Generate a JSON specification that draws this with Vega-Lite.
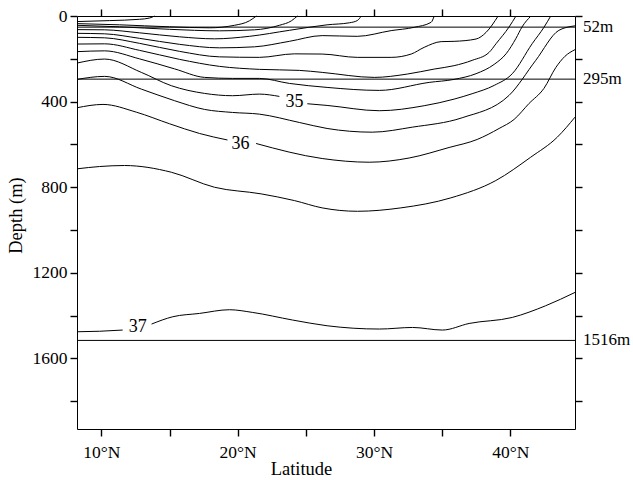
{
  "$schema": "https://vega.github.io/schema/vega-lite/v6.json",
  "width": 498,
  "height": 413,
  "autosize": {"type": "none"},
  "padding": {"left": 77, "top": 16, "right": 58, "bottom": 51},
  "background": "white",
  "config": {
    "view": {"stroke": null},
    "font": "Liberation Serif, Times New Roman, Times, DejaVu Serif, serif",
    "axis": {
      "grid": false,
      "domainColor": "black",
      "tickColor": "black",
      "labelColor": "black",
      "titleColor": "black",
      "labelFont": "Liberation Serif, Times New Roman, Times, DejaVu Serif, serif",
      "titleFont": "Liberation Serif, Times New Roman, Times, DejaVu Serif, serif",
      "labelFontSize": 17.5,
      "titleFontSize": 18.5,
      "titleFontWeight": "normal",
      "tickSize": 7,
      "tickWidth": 1.4,
      "domainWidth": 1
    }
  },
  "datasets": {
    "contours": [
      {"c":"31","lat":8.21,"depth":26},{"c":"31","lat":10.61,"depth":21.5},{"c":"31","lat":12.8,"depth":15.4},{"c":"31","lat":13.54,"depth":9.4},{"c":"31","lat":13.9,"depth":0},
      {"c":"31.5","lat":8.21,"depth":35.6},{"c":"31.5","lat":11.34,"depth":41.2},{"c":"31.5","lat":15.0,"depth":50.5},{"c":"31.5","lat":17.93,"depth":55.2},{"c":"31.5","lat":19.76,"depth":43.5},{"c":"31.5","lat":20.86,"depth":22.5},{"c":"31.5","lat":21.37,"depth":0},
      {"c":"32","lat":8.21,"depth":43.5},{"c":"32","lat":11.34,"depth":50.5},{"c":"32","lat":15.0,"depth":62.2},{"c":"32","lat":18.66,"depth":69.3},{"c":"32","lat":21.23,"depth":64.6},{"c":"32","lat":23.06,"depth":43.5},{"c":"32","lat":23.94,"depth":22.5},{"c":"32","lat":24.38,"depth":0},
      {"c":"32.5","lat":8.21,"depth":63.6},{"c":"32.5","lat":10.24,"depth":64.6},{"c":"32.5","lat":12.8,"depth":78.6},{"c":"32.5","lat":15.73,"depth":97.3},{"c":"32.5","lat":18.3,"depth":106.7},{"c":"32.5","lat":20.86,"depth":95},{"c":"32.5","lat":23.79,"depth":66.9},{"c":"32.5","lat":26.56,"depth":41.2},{"c":"32.5","lat":28.19,"depth":31.8},{"c":"32.5","lat":28.77,"depth":21.5},{"c":"32.5","lat":29.07,"depth":0},
      {"c":"33","lat":8.21,"depth":81},{"c":"33","lat":10.24,"depth":83.3},{"c":"33","lat":12.8,"depth":104.4},{"c":"33","lat":15.73,"depth":132.4},{"c":"33","lat":18.66,"depth":148.8},{"c":"33","lat":21.23,"depth":144.1},{"c":"33","lat":23.79,"depth":118.4},{"c":"33","lat":26.2,"depth":91.7},{"c":"33","lat":28.77,"depth":95},{"c":"33","lat":31.26,"depth":68.3},{"c":"33","lat":32.95,"depth":52.9},{"c":"33","lat":34.19,"depth":29.5},{"c":"33","lat":34.42,"depth":0},
      {"c":"33.5","lat":8.21,"depth":99.7},{"c":"33.5","lat":10.24,"depth":102},{"c":"33.5","lat":12.8,"depth":127.8},{"c":"33.5","lat":15.73,"depth":165.2},{"c":"33.5","lat":18.66,"depth":190.9},{"c":"33.5","lat":21.59,"depth":193.3},{"c":"33.5","lat":24.16,"depth":176.9},{"c":"33.5","lat":26.2,"depth":177.8},{"c":"33.5","lat":28.77,"depth":193.3},{"c":"33.5","lat":31.26,"depth":193.3},{"c":"33.5","lat":32.73,"depth":177.8},{"c":"33.5","lat":33.68,"depth":146.5},{"c":"33.5","lat":34.93,"depth":119.8},{"c":"33.5","lat":35.88,"depth":118.4},{"c":"33.5","lat":37.49,"depth":107.6},{"c":"33.5","lat":38.23,"depth":76.3},{"c":"33.5","lat":39.11,"depth":0},
      {"c":"34","lat":8.21,"depth":131},{"c":"34","lat":10.24,"depth":130.1},{"c":"34","lat":12.8,"depth":160.5},{"c":"34","lat":15.73,"depth":202.6},{"c":"34","lat":18.66,"depth":235.4},{"c":"34","lat":21.59,"depth":249.4},{"c":"34","lat":24.52,"depth":254.1},{"c":"34","lat":26.2,"depth":263.5},{"c":"34","lat":30.02,"depth":286.9},{"c":"34","lat":32.44,"depth":271.4},{"c":"34","lat":34.42,"depth":248},{"c":"34","lat":35.88,"depth":232.1},{"c":"34","lat":37.2,"depth":207.3},{"c":"34","lat":38.45,"depth":169.9},{"c":"34","lat":38.96,"depth":129.2},{"c":"34","lat":39.91,"depth":51.5},{"c":"34","lat":40.42,"depth":0},
      {"c":"34.5","lat":8.21,"depth":166.6},{"c":"34.5","lat":10.24,"depth":162.9},{"c":"34.5","lat":12.8,"depth":200.3},{"c":"34.5","lat":15.37,"depth":247.1},{"c":"34.5","lat":17.57,"depth":286.9},{"c":"34.5","lat":19.62,"depth":291.6},{"c":"34.5","lat":21.59,"depth":291.6},{"c":"34.5","lat":23.79,"depth":315},{"c":"34.5","lat":26.56,"depth":333.7},{"c":"34.5","lat":30.39,"depth":347.7},{"c":"34.5","lat":34.05,"depth":310.3},{"c":"34.5","lat":35.88,"depth":296.2},{"c":"34.5","lat":37.49,"depth":269.6},{"c":"34.5","lat":38.82,"depth":226},{"c":"34.5","lat":39.7,"depth":176},{"c":"34.5","lat":40.42,"depth":104.4},{"c":"34.5","lat":40.86,"depth":51.5},{"c":"34.5","lat":41.52,"depth":0},
      {"c":"35a","lat":8.21,"depth":220},{"c":"35a","lat":10.24,"depth":201.2},{"c":"35a","lat":12.93,"depth":263.5},{"c":"35a","lat":15.13,"depth":325.7},{"c":"35a","lat":17.57,"depth":361.8},{"c":"35a","lat":19.62,"depth":372.5},{"c":"35a","lat":21.59,"depth":365},{"c":"35a","lat":23.06,"depth":375.8},
      {"c":"35b","lat":25.11,"depth":410},{"c":"35b","lat":26.56,"depth":417.9},{"c":"35b","lat":30.39,"depth":442.7},{"c":"35b","lat":33.68,"depth":419.3},{"c":"35b","lat":35.88,"depth":388.4},{"c":"35b","lat":37.2,"depth":363.2},{"c":"35b","lat":38.82,"depth":324.3},{"c":"35b","lat":40.15,"depth":269.6},{"c":"35b","lat":41.61,"depth":129.2},{"c":"35b","lat":42.47,"depth":52.9},{"c":"35b","lat":42.97,"depth":0},
      {"c":"35.5","lat":8.21,"depth":296.2},{"c":"35.5","lat":10.24,"depth":282.2},{"c":"35.5","lat":12.93,"depth":341.6},{"c":"35.5","lat":15.37,"depth":395.9},{"c":"35.5","lat":17.57,"depth":436.6},{"c":"35.5","lat":19.62,"depth":450.7},{"c":"35.5","lat":21.59,"depth":458.6},{"c":"35.5","lat":24.52,"depth":497.5},{"c":"35.5","lat":26.56,"depth":525.6},{"c":"35.5","lat":29.87,"depth":542.9},{"c":"35.5","lat":32.81,"depth":519.5},{"c":"35.5","lat":36.47,"depth":475.5},{"c":"35.5","lat":39.91,"depth":371.1},{"c":"35.5","lat":41.87,"depth":207.3},{"c":"35.5","lat":43.57,"depth":66.9},{"c":"35.5","lat":44.75,"depth":46},
      {"c":"36a","lat":8.21,"depth":428.7},{"c":"36a","lat":10.12,"depth":413.2},{"c":"36a","lat":12.56,"depth":449.3},{"c":"36a","lat":15.0,"depth":503.6},{"c":"36a","lat":17.2,"depth":549},{"c":"36a","lat":19.25,"depth":579.4},
      {"c":"36b","lat":21.35,"depth":595.8},{"c":"36b","lat":26.2,"depth":666},{"c":"36b","lat":29.65,"depth":683.3},{"c":"36b","lat":32.58,"depth":663.6},{"c":"36b","lat":35.51,"depth":614.5},{"c":"36b","lat":37.57,"depth":577},{"c":"36b","lat":39.18,"depth":525.6},{"c":"36b","lat":40.28,"depth":483.4},{"c":"36b","lat":41.38,"depth":408.6},{"c":"36b","lat":42.47,"depth":338.4},{"c":"36b","lat":43.35,"depth":240},{"c":"36b","lat":44.01,"depth":188.6},{"c":"36b","lat":44.75,"depth":157.2},
      {"c":"36.5","lat":8.21,"depth":714.2},{"c":"36.5","lat":9.87,"depth":703.4},{"c":"36.5","lat":11.7,"depth":698.7},{"c":"36.5","lat":15.13,"depth":730.1},{"c":"36.5","lat":18.3,"depth":800.3},{"c":"36.5","lat":21.72,"depth":831.2},{"c":"36.5","lat":24.16,"depth":862.5},{"c":"36.5","lat":26.2,"depth":896.7},{"c":"36.5","lat":28.79,"depth":912.6},{"c":"36.5","lat":31.97,"depth":896.7},{"c":"36.5","lat":35.64,"depth":849.9},{"c":"36.5","lat":38.94,"depth":768.9},{"c":"36.5","lat":41.5,"depth":659.9},{"c":"36.5","lat":43.45,"depth":566.3},{"c":"36.5","lat":44.75,"depth":472.7},
      {"c":"37a","lat":8.21,"depth":1475.6},{"c":"37a","lat":9.87,"depth":1473.2},{"c":"37a","lat":11.56,"depth":1467.6},
      {"c":"37b","lat":13.68,"depth":1439.6},{"c":"37b","lat":15.24,"depth":1405.4},{"c":"37b","lat":17.2,"depth":1389.9},{"c":"37b","lat":19.4,"depth":1372.6},{"c":"37b","lat":21.1,"depth":1385.3},{"c":"37b","lat":24.03,"depth":1420.8},{"c":"37b","lat":26.56,"depth":1447.5},{"c":"37b","lat":30.39,"depth":1462.9},{"c":"37b","lat":32.83,"depth":1455.5},{"c":"37b","lat":35.02,"depth":1467.6},{"c":"37b","lat":36.98,"depth":1436.8},{"c":"37b","lat":40.15,"depth":1408.6},{"c":"37b","lat":42.6,"depth":1353.9},{"c":"37b","lat":44.75,"depth":1291.7}
    ],
    "refs": [
      {"depth": 52, "lat": 44.75, "t": "52m"},
      {"depth": 295, "lat": 44.75, "t": "295m"},
      {"depth": 1516, "lat": 44.75, "t": "1516m"}
    ],
    "labels": [
      {"lat": 24.16, "depth": 400, "t": "35"},
      {"lat": 20.2, "depth": 598, "t": "36"},
      {"lat": 12.66, "depth": 1452, "t": "37"}
    ]
  },
  "resolve": {"axis": {"x": "independent", "y": "independent"}},
  "layer": [
    {
      "data": {"name": "contours"},
      "mark": {"type": "line", "color": "black", "strokeWidth": 1, "interpolate": "monotone"},
      "encoding": {
        "x": {"field": "lat", "type": "quantitative",
              "scale": {"domain": [8.21, 44.75], "nice": false, "zero": false},
              "axis": {"orient": "bottom", "values": [10, 15, 20, 25, 30, 35, 40],
                       "labelExpr": "datum.value % 10 === 0 ? datum.value + '°N' : ''",
                       "title": "Latitude", "labelPadding": 7, "titlePadding": -1, "titleX": 224}},
        "y": {"field": "depth", "type": "quantitative",
              "scale": {"domain": [0, 1930], "nice": false, "zero": false, "reverse": true},
              "axis": {"orient": "left", "values": [0, 200, 400, 600, 800, 1000, 1200, 1400, 1600, 1800],
                       "labelExpr": "datum.value % 400 === 0 ? datum.label : ''", "format": "d",
                       "title": "Depth (m)", "labelPadding": 3, "titlePadding": 7, "titleY": 199}},
        "detail": {"field": "c", "type": "nominal"}
      }
    },
    {
      "data": {"name": "refs"},
      "mark": {"type": "rule", "color": "black", "strokeWidth": 1},
      "encoding": {
        "y": {"field": "depth", "type": "quantitative", "axis": null}
      }
    },
    {
      "data": {"name": "labels"},
      "mark": {"type": "text", "fontSize": 18, "color": "black", "align": "center", "baseline": "middle"},
      "encoding": {
        "x": {"field": "lat", "type": "quantitative", "axis": null},
        "y": {"field": "depth", "type": "quantitative", "axis": null},
        "text": {"field": "t"}
      }
    },
    {
      "data": {"name": "refs"},
      "mark": {"type": "text", "fontSize": 17, "color": "black", "align": "left", "baseline": "middle", "dx": 8},
      "encoding": {
        "x": {"field": "lat", "type": "quantitative",
              "axis": {"orient": "top", "values": [10, 15, 20, 25, 30, 35, 40], "labels": false, "title": null}},
        "y": {"field": "depth", "type": "quantitative",
              "axis": {"orient": "right", "values": [0, 200, 400, 600, 800, 1000, 1200, 1400, 1600, 1800], "labels": false, "title": null}},
        "text": {"field": "t"}
      }
    }
  ]
}
